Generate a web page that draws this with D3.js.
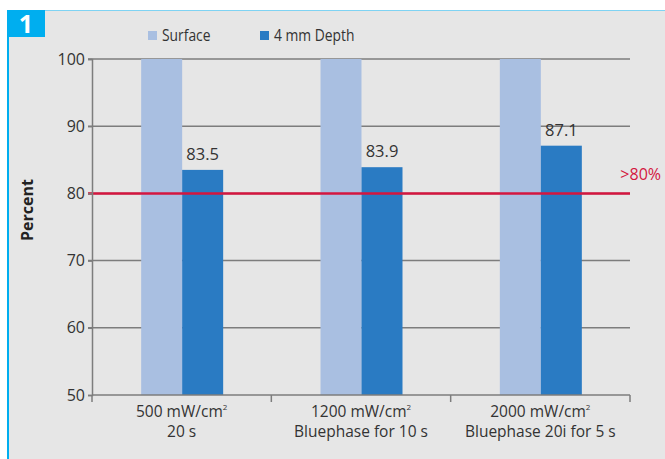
<!DOCTYPE html>
<html>
<head>
<meta charset="utf-8">
<script src="https://cdn.jsdelivr.net/npm/d3@7"></script>
<style>
  html, body { margin: 0; padding: 0; background: #ffffff; }
  svg { display: block; }
</style>
</head>
<body>
<svg id="chart" width="665" height="459"></svg>
<script>
// ---- data ----
const categories = [
  ["500 mW/cm²", "20 s"],
  ["1200 mW/cm²", "Bluephase for 10 s"],
  ["2000 mW/cm²", "Bluephase 20i for 5 s"]
];
const seriesNames = ["Surface", "4 mm Depth"];
const surfaceValues = [100, 100, 100];
const depthValues = [83.5, 83.9, 87.1];
const yTicks = [50, 60, 70, 80, 90, 100];
const thresholdValue = 80;
const thresholdLabel = ">80%";
const yAxisTitle = "Percent";
const badgeLabel = "1";

// ---- styles ----
const colors = { "Surface": "#a9bfe1", "4 mm Depth": "#2a7bc3" };
const bg = "#e6e6e6";
const cyan = "#00aeef";
const gridColor = "#7d7d7d";
const red = "#d4163f";
const textColor = "#333333";
const font = "'Open Sans', 'DejaVu Sans', sans-serif";

const svg = d3.select("#chart");

// panel background and frame
svg.append("rect").attr("x", 7).attr("y", 10).attr("width", 658).attr("height", 449).attr("fill", bg);
svg.append("line").attr("x1", 7).attr("x2", 665).attr("y1", 10.5).attr("y2", 10.5)
  .attr("stroke", "#7fd3f3").attr("stroke-width", 1);
svg.append("rect").attr("x", 7).attr("y", 10).attr("width", 2).attr("height", 449).attr("fill", cyan);
svg.append("rect").attr("x", 7).attr("y", 10).attr("width", 38).attr("height", 27).attr("fill", cyan);
svg.append("text").attr("x", 26).attr("y", 33).attr("text-anchor", "middle")
  .attr("font-family", font).attr("font-weight", "bold").attr("font-size", 25)
  .attr("fill", "#ffffff").text(badgeLabel);

// scales
const plot = { left: 92, right: 630, top: 59, bottom: 395 };
const y = d3.scaleLinear().domain([50, 100]).range([plot.bottom, plot.top]);
const x0 = d3.scaleBand().domain(d3.range(categories.length)).range([plot.left, plot.right]);
const bw = x0.bandwidth();
const x1 = d3.scaleBand().domain(seriesNames).range([bw / 2 - 40.5, bw / 2 + 41.5]);

// gridlines
svg.append("g").selectAll("line").data(yTicks.filter(t => t !== 50)).join("line")
  .attr("x1", plot.left - 4).attr("x2", plot.right)
  .attr("y1", d => y(d)).attr("y2", d => y(d))
  .attr("stroke", gridColor).attr("stroke-width", 1.5);

// bars
const rows = categories.map((c, i) => ({ i, vals: [surfaceValues[i], depthValues[i]] }));
const groups = svg.append("g").selectAll("g").data(rows).join("g")
  .attr("transform", d => `translate(${x0(d.i)},0)`);
groups.selectAll("rect").data(d => d.vals.map((v, k) => ({ key: seriesNames[k], v }))).join("rect")
  .attr("x", d => x1(d.key)).attr("width", x1.bandwidth())
  .attr("y", d => y(d.v)).attr("height", d => y(50) - y(d.v))
  .attr("fill", d => colors[d.key]);

// value labels on depth bars
groups.append("text")
  .attr("x", x1("4 mm Depth") + x1.bandwidth() / 2)
  .attr("y", d => y(d.vals[1]) - 10)
  .attr("text-anchor", "middle").attr("font-family", font).attr("font-size", 16.5)
  .attr("fill", textColor).text(d => d.vals[1].toFixed(1));

// threshold line
svg.append("line").attr("x1", plot.left - 4).attr("x2", plot.right)
  .attr("y1", y(thresholdValue)).attr("y2", y(thresholdValue))
  .attr("stroke", red).attr("stroke-width", 2.5);
svg.append("text").attr("x", 661).attr("y", 180).attr("text-anchor", "end")
  .attr("font-family", font).attr("font-size", 16).attr("fill", red).text(thresholdLabel);

// y axis
const yAxis = svg.append("g").attr("transform", `translate(${plot.left},0)`)
  .call(d3.axisLeft(y).tickValues(yTicks).tickSize(4).tickPadding(3));
yAxis.select(".domain").attr("stroke", gridColor).attr("stroke-width", 1.5);
yAxis.selectAll(".tick line").attr("stroke", gridColor).attr("stroke-width", 1.5);
yAxis.selectAll(".tick text").attr("font-family", font).attr("font-size", 16).attr("fill", textColor);

// x axis
const xAxis = svg.append("g").attr("transform", `translate(0,${plot.bottom})`);
xAxis.append("line").attr("x1", plot.left).attr("x2", plot.right).attr("y1", 0).attr("y2", 0)
  .attr("stroke", gridColor).attr("stroke-width", 1.5);
const boundaries = d3.range(categories.length).map(i => x0(i)).concat([x0(categories.length - 1) + bw]);
xAxis.selectAll(".bt").data(boundaries).join("line")
  .attr("x1", d => d).attr("x2", d => d).attr("y1", 0).attr("y2", 7)
  .attr("stroke", gridColor).attr("stroke-width", 1.5);
const xl = xAxis.selectAll(".xl").data(categories).join("text")
  .attr("text-anchor", "middle").attr("font-family", font).attr("font-size", 15.5).attr("fill", textColor)
  .attr("transform", (d, i) => `translate(${x0(i) + bw / 2},0)`);
xl.each(function (d) {
  const t = d3.select(this);
  d.forEach((line, k) => {
    const ts = t.append("tspan").attr("x", 0).attr("y", 22 + k * 20);
    if (line.endsWith("²")) {
      ts.append("tspan").text(line.slice(0, -1));
      ts.append("tspan").attr("font-size", 8).attr("dy", -7).text("2");
    } else {
      ts.text(line);
    }
  });
});

// y title
svg.append("text").attr("transform", "translate(33,210) rotate(-90)")
  .attr("text-anchor", "middle").attr("font-family", font).attr("font-weight", "bold")
  .attr("font-size", 16).attr("fill", "#222").text(yAxisTitle);

// legend
const legendX = [148, 260];
const legend = svg.append("g").selectAll("g").data(seriesNames).join("g")
  .attr("transform", (d, i) => `translate(${legendX[i]},31)`);
legend.append("rect").attr("width", 9).attr("height", 9).attr("fill", d => colors[d]);
legend.append("text").attr("transform", "translate(14,10) scale(0.84,1)")
  .attr("font-family", font).attr("font-size", 16.5).attr("fill", textColor).text(d => d);
</script>
</body>
</html>
